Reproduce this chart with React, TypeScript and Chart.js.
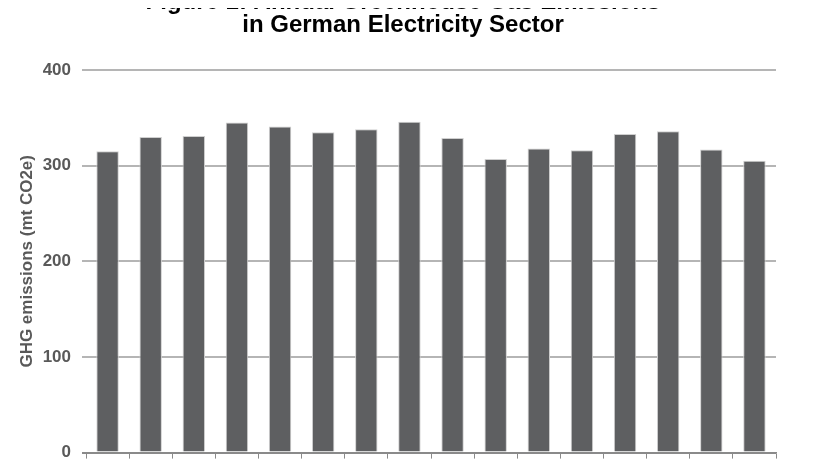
import React, { useEffect, useRef } from "react";
import { Chart, registerables } from "chart.js";

Chart.register(...registerables);

const years = ["1990","1991","1992","1993","1994","1995","1996","1997","1998","1999","2000","2001","2002","2003","2004","2005"];
const emissions = [315, 330, 331, 345, 341, 335, 338, 346, 329, 307, 318, 316, 333, 336, 317, 305];
const yTicks = [0, 100, 200, 300, 400];
const titleLines = ["Figure 1: Annual Greenhouse Gas Emissions", "in German Electricity Sector"];
const yTitle = "GHG emissions (mt CO2e)";

const FONT = "'Liberation Sans', Arial, sans-serif";

const titlePlugin = {
  id: "twoLineTitle",
  afterDraw(chart: any) {
    const ctx = chart.ctx;
    ctx.save();
    ctx.font = `bold 24px ${FONT}`;
    ctx.fillStyle = "#000";
    ctx.textAlign = "center";
    ctx.textBaseline = "alphabetic";
    const cx = 395;
    titleLines.forEach((line, i) => {
      ctx.fillText(line, cx, 34 + i * 23);
    });
    ctx.restore();
  },
};

export default function App() {
  const ref = useRef<HTMLCanvasElement>(null);
  useEffect(() => {
    const chart = new Chart(ref.current!, {
      type: "bar",
      data: {
        labels: years,
        datasets: [
          {
            data: emissions,
            backgroundColor: "#5e5f61",
            borderColor: "#cfcfcf",
            borderWidth: 1,
            barPercentage: 0.52,
            categoryPercentage: 1,
          },
        ],
      },
      plugins: [titlePlugin],
      options: {
        animation: false,
        responsive: false,
        maintainAspectRatio: false,
        layout: { padding: { left: 0, right: 37, top: 95, bottom: 0 } },
        plugins: {
          legend: { display: false },
          tooltip: { enabled: false },
          title: { display: false },
        },
        scales: {
          x: {
            grid: {
              offset: true,
              drawOnChartArea: false,
              drawTicks: true,
              tickLength: 6,
              color: "#8a8a8a",
              lineWidth: 1,
            },
            border: { color: "#8a8a8a", width: 1.5 },
            ticks: {
              color: "#595959",
              maxRotation: 0,
              minRotation: 0,
              autoSkip: false,
              font: { family: FONT, size: 17, weight: "bold" },
            },
          },
          y: {
            min: 0,
            max: 400,
            afterFit: (s: any) => { s.width = 78; },
            afterBuildTicks: (s: any) => { s.ticks = yTicks.map((v) => ({ value: v })); },
            grid: {
              color: (c: any) => (c.tick && c.tick.value === 0 ? "#8a8a8a" : "#b5b5b5"),
              lineWidth: 2,
              tickLength: 4,
            },
            border: { display: false },
            ticks: {
              color: "#595959",
              padding: 11,
              font: { family: FONT, size: 17, weight: "bold" },
            },
            title: {
              display: true,
              text: yTitle,
              color: "#595959",
              font: { family: FONT, size: 17, weight: "bold" },
              padding: { top: 9, bottom: 4 },
            },
          },
        },
      },
    });
    return () => chart.destroy();
  }, []);
  return (
    <div style={{ marginTop: -33, width: 805, height: 510 }}>
      <canvas ref={ref} width={805} height={510} style={{ display: "block" }} />
    </div>
  );
}
